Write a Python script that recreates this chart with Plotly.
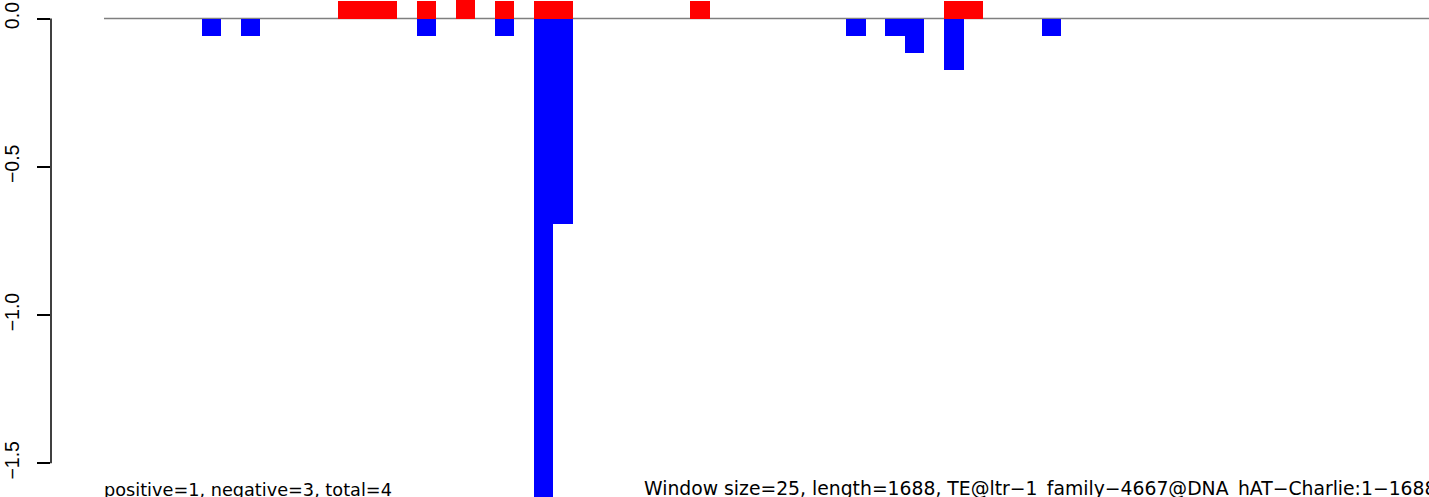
import plotly.graph_objects as go

# ---- data ----
window_size = 25
seq_length = 1688
pos_starts = [300, 325, 350, 400, 450, 500, 550, 575, 750, 1075, 1100]
pos_values = [0.059, 0.059, 0.059, 0.059, 0.117, 0.059, 0.059, 0.059, 0.059, 0.059, 0.059]
neg_starts = [125, 175, 400, 500, 550, 575, 950, 1000, 1025, 1075, 1200]
neg_values = [-0.059, -0.059, -0.059, -0.059, -1.75, -0.692, -0.059, -0.059, -0.117, -0.175, -0.059]
y_tickvals = [0, -0.5, -1.0, -1.5]
y_ticktext = ["0.0", "\u22120.5", "\u22121.0", "\u22121.5"]
caption_left = "positive=1, negative=3, total=4"
caption_right = "Window size=25, length=1688, TE@ltr\u22121_family\u22124667@DNA_hAT\u2212Charlie:1\u22121688"

W, H = 1429, 497
axis_px = 51
px_per_bp = 0.7814
x_range = [(axis_px - 104) / px_per_bp, (W - 104) / px_per_bp]
y_range = [-1.614, 0.0624]

fig = go.Figure()
fig.add_trace(go.Bar(
    x=[s + window_size / 2 for s in pos_starts], y=pos_values, width=window_size,
    marker=dict(color="#FF0000", line=dict(width=0)), hoverinfo="skip"))
fig.add_trace(go.Bar(
    x=[s + window_size / 2 for s in neg_starts], y=neg_values, width=window_size,
    marker=dict(color="#0000FF", line=dict(width=0)), hoverinfo="skip"))

# zero line
fig.add_shape(type="line", xref="x", yref="y", x0=0, x1=seq_length + 200, y0=0, y1=0,
              line=dict(color="#7f7f7f", width=1.4), layer="below")
# R-style y axis line from first to last tick
fig.add_shape(type="line", xref="paper", yref="y", x0=axis_px / W, x1=axis_px / W,
              y0=y_tickvals[0], y1=y_tickvals[-1], line=dict(color="black", width=1.5),
              layer="above")

fig.add_annotation(text=caption_left, xref="paper", yref="paper", x=102 / W, y=0,
                   xanchor="left", yanchor="bottom", yshift=-5, showarrow=False,
                   font=dict(family="DejaVu Sans", size=17.7, color="black"))
fig.add_annotation(text=caption_right, xref="paper", yref="paper", x=642 / W, y=0,
                   xanchor="left", yanchor="bottom", yshift=-5, showarrow=False,
                   font=dict(family="DejaVu Sans", size=18.8, color="black"))

fig.update_layout(
    width=W, height=H, margin=dict(l=0, r=0, t=0, b=0, autoexpand=False),
    paper_bgcolor="white", plot_bgcolor="white", showlegend=False,
    barmode="overlay", bargap=0,
    xaxis=dict(range=x_range, visible=False, domain=[axis_px / W, 1]),
    yaxis=dict(range=y_range, anchor="x", side="left", automargin=False,
               showline=False, showgrid=False, zeroline=False,
               tickmode="array", tickvals=y_tickvals, ticktext=y_ticktext,
               ticks="outside", ticklen=13, tickwidth=1.5, tickcolor="black",
               tickangle=-90, tickfont=dict(family="Liberation Sans", size=19.5, color="black"),
               ticklabelstandoff=10),
)
fig.write_html("out.html", config={"displayModeBar": False},
               post_script="document.body.style.margin='0';document.body.style.overflow='hidden';")
